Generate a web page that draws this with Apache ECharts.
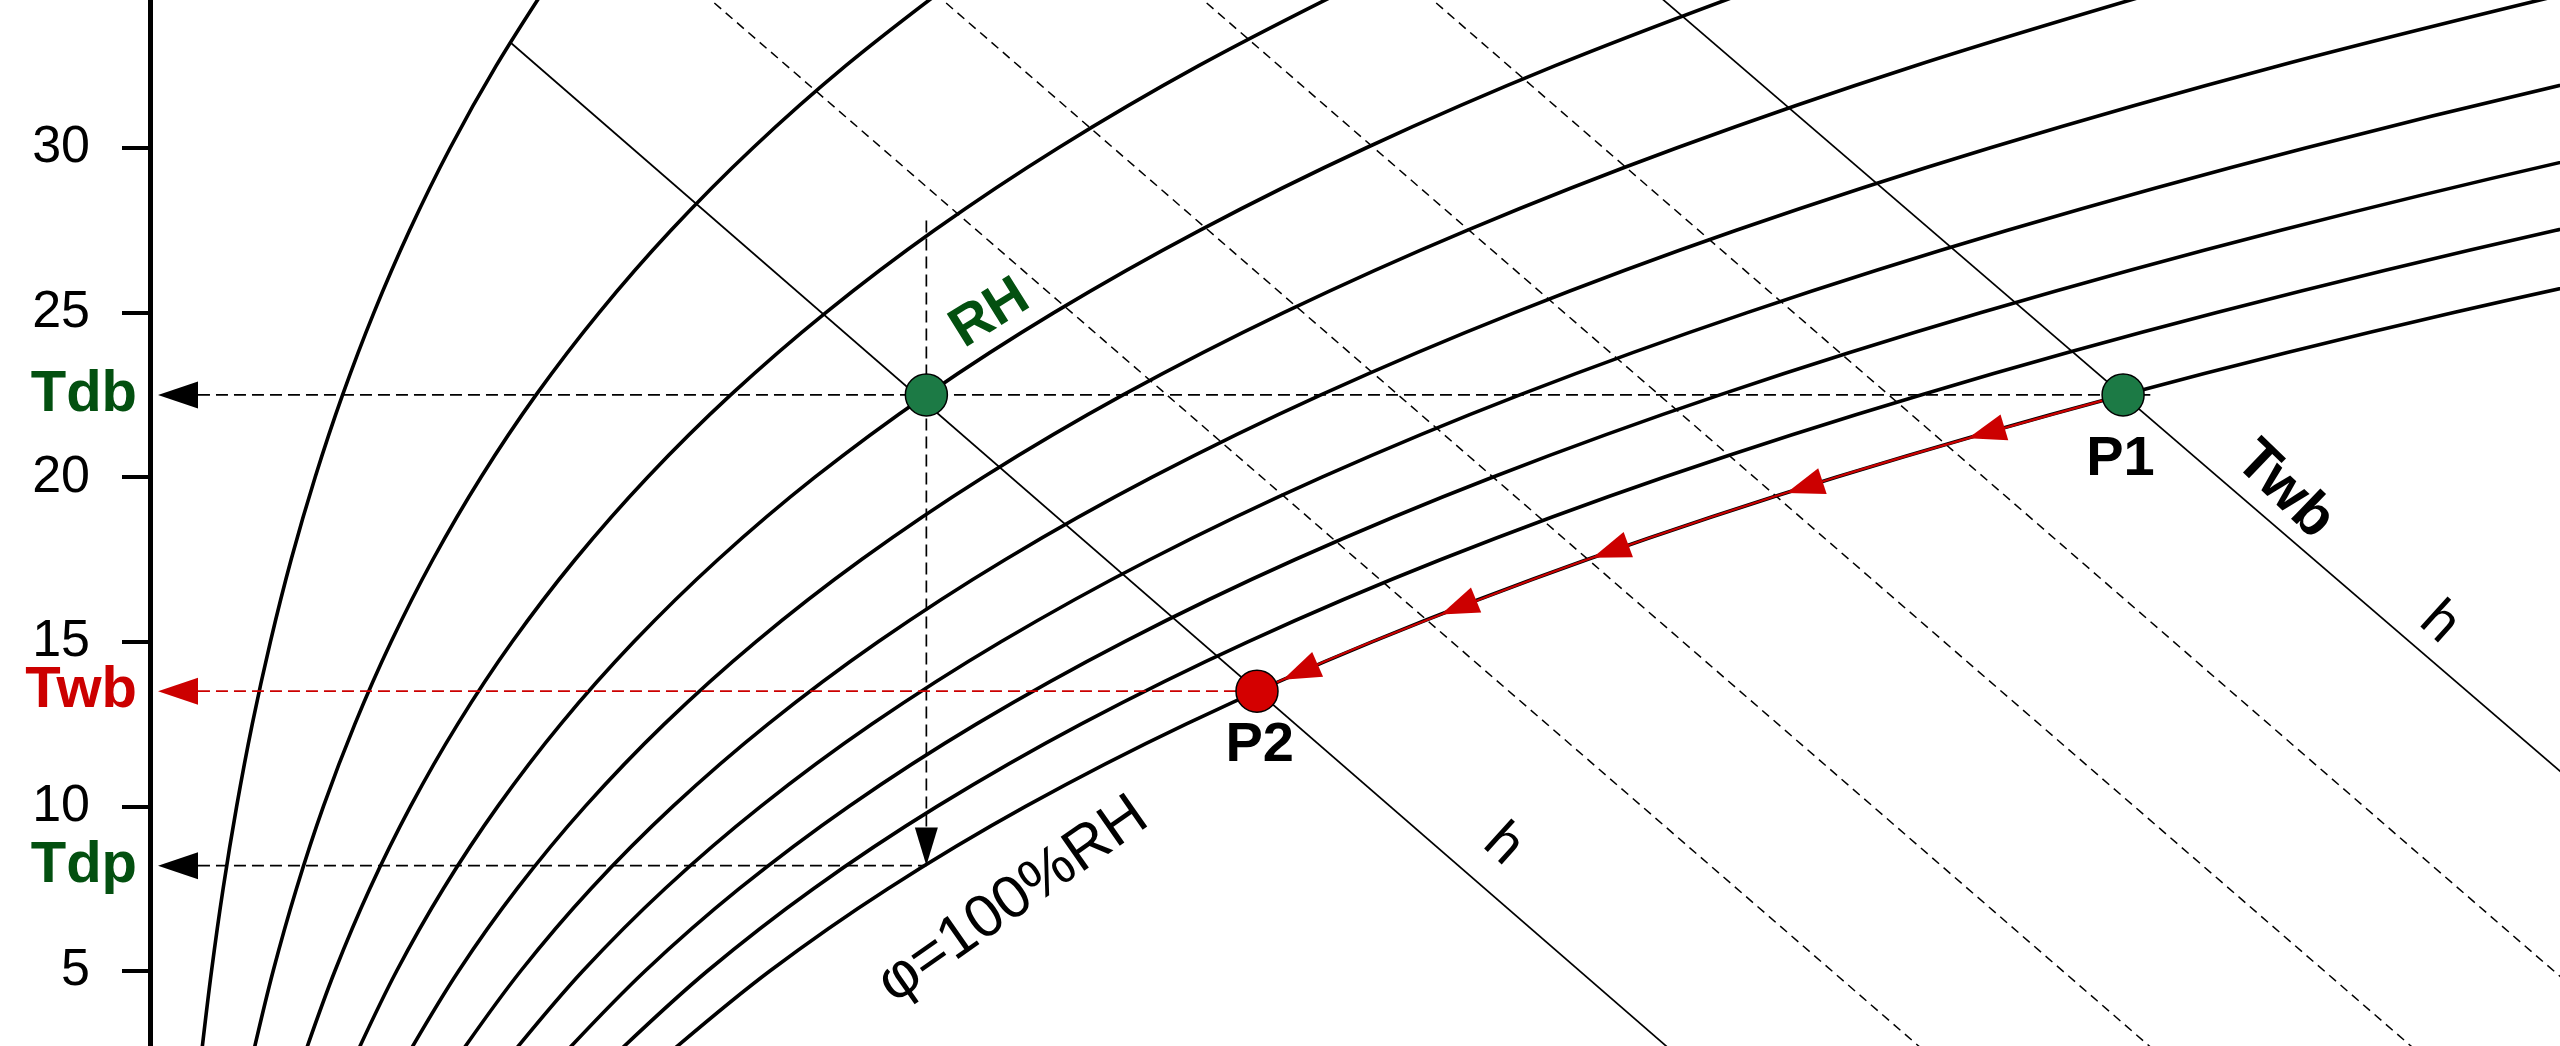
<!DOCTYPE html>
<html>
<head>
<meta charset="utf-8">
<script src="https://cdn.jsdelivr.net/npm/echarts@6/dist/echarts.min.js"></script>
<style>html,body{margin:0;padding:0;background:#fff}#c{width:2560px;height:1046px}</style>
</head>
<body>
<div id="c"></div>
<script>
// ---- data (x: humidity ratio g/kg, y: temperature °C) ----
const TEMP = [2.5, 5, 7.5, 10, 12.5, 15, 17.5, 20, 22.5, 25, 27.5, 30, 32.5, 35];
const RH10  = [0.449, 0.536, 0.637, 0.755, 0.891, 1.049, 1.230, 1.439, 1.678, 1.951, 2.262, 2.615, 3.017, 3.471];
const RH20  = [0.899, 1.073, 1.276, 1.511, 1.785, 2.101, 2.465, 2.884, 3.364, 3.914, 4.540, 5.253, 6.063, 6.981];
const RH30  = [1.350, 1.611, 1.915, 2.270, 2.681, 3.156, 3.705, 4.336, 5.060, 5.889, 6.835, 7.913, 9.139, 10.530];
const RH40  = [1.801, 2.149, 2.556, 3.030, 3.579, 4.216, 4.950, 5.794, 6.765, 7.877, 9.147, 10.595, 12.245, 14.120];
const RH50  = [2.253, 2.689, 3.199, 3.792, 4.481, 5.279, 6.200, 7.260, 8.479, 9.878, 11.476, 13.301, 15.382, 17.750];
const RH60  = [2.705, 3.230, 3.842, 4.556, 5.385, 6.345, 7.454, 8.732, 10.203, 11.891, 13.822, 16.030, 18.551, 21.423];
const RH70  = [3.158, 3.771, 4.487, 5.322, 6.291, 7.415, 8.714, 10.212, 11.936, 13.917, 16.186, 18.782, 21.750, 25.137];
const RH80  = [3.612, 4.314, 5.134, 6.089, 7.200, 8.489, 9.979, 11.698, 13.679, 15.957, 18.567, 21.558, 24.983, 28.895];
const RH90  = [4.067, 4.857, 5.781, 6.859, 8.112, 9.566, 11.249, 13.191, 15.431, 18.009, 20.966, 24.358];
const RH100 = [4.522, 5.401, 6.430, 7.630, 9.027, 10.648, 12.524, 14.691, 17.193, 20.074, 23.383];
const RH_CURVES = [RH10, RH20, RH30, RH40, RH50, RH60, RH70, RH80, RH90, RH100];

// enthalpy lines (end points)
const H_SOLID = [
  [[3.146, 33.19], [14.11, 0]],
  [[13.02, 35], [23.0, 5.07]]
];
const H_DASHED = [
  [[4.72, 35], [15.65, 2]],
  [[6.74, 35], [17.66, 2]],
  [[9.01, 35], [19.94, 2]],
  [[11.01, 35], [21.94, 2]]
];

const TDB = 22.5, TWB = 13.5, TDP = 8.2;
const STATE_PT = [6.765, 22.5];
const P1 = [17.193, 22.5];
const P2 = [9.646, 13.5];
const PATH = [[17.193, 22.5], [14.691, 20], [12.524, 17.5], [10.648, 15], [9.646, 13.5]];
const ARROW_X = [16.00, 14.416, 12.726, 11.402, 10.023];
const ARROW_T = [21.35, 19.7, 17.75, 16.05, 14.08];
const GUIDE_X0 = 0.418;     // start of horizontal guides
const TDB_END_X = 17.43;
const VERT_TOP_T = 27.8, VERT_END_T = 9.0, DOWN_ARROW_T = 8.78;
const AXIS_ARROW_X = 0.244;

const FONT = '"Liberation Sans", Arial, Helvetica, sans-serif';
const GREEN_TXT = '#035010', RED = '#cc0000';

const series = [];
RH_CURVES.forEach((arr, k) => {
  series.push({
    type: 'line', name: 'RH' + (k + 1) * 10, silent: true, z: 3,
    data: arr.map((x, i) => [x, TEMP[i]]),
    smooth: 0.35, showSymbol: false, symbol: 'none',
    lineStyle: { color: '#000', width: 3.6 }
  });
});
H_SOLID.forEach(l => series.push({
  type: 'line', silent: true, z: 2, data: l, symbol: 'none',
  lineStyle: { color: '#000', width: 1.7 }
}));
H_DASHED.forEach(l => series.push({
  type: 'line', silent: true, z: 2, data: l, symbol: 'none',
  lineStyle: { color: '#000', width: 1.5, type: [9, 6] }
}));
// guides
const guide = (d, c) => ({ type: 'line', silent: true, z: 4, data: d, symbol: 'none',
  lineStyle: { color: c, width: 1.7, type: [12, 6] } });
series.push(guide([[GUIDE_X0, TDB], [TDB_END_X, TDB]], '#000'));
series.push(guide([[GUIDE_X0, TDP], [STATE_PT[0], TDP]], '#000'));
series.push(guide([[STATE_PT[0], VERT_TOP_T], [STATE_PT[0], VERT_END_T]], '#000'));
series.push(guide([[GUIDE_X0, TWB], [P2[0], TWB]], RED));
// red path along saturation curve
series.push({ type: 'line', silent: true, z: 5, data: PATH, smooth: 0.35, symbol: 'none',
  lineStyle: { color: RED, width: 2.2 } });
// axis arrows
series.push({ type: 'scatter', silent: true, z: 6, clip: false, symbol: 'triangle',
  itemStyle: { opacity: 1 },
  data: [
    { value: [AXIS_ARROW_X, TDB], symbolSize: [27, 40], symbolRotate: 90, itemStyle: { color: '#000', opacity: 1 } },
    { value: [AXIS_ARROW_X, TWB], symbolSize: [27, 40], symbolRotate: 90, itemStyle: { color: RED, opacity: 1 } },
    { value: [AXIS_ARROW_X, TDP], symbolSize: [27, 40], symbolRotate: 90, itemStyle: { color: '#000', opacity: 1 } },
    { value: [STATE_PT[0], DOWN_ARROW_T], symbolSize: [23, 38], symbolRotate: 180, itemStyle: { color: '#000', opacity: 1 } }
  ] });
// red path arrows (rotation set after layout)
series.push({ id: 'redArrows', type: 'scatter', silent: true, z: 6, symbol: 'triangle',
  symbolSize: [27, 38], itemStyle: { color: RED, opacity: 1 },
  data: ARROW_X.map((x, i) => [x, ARROW_T[i]]) });
// state points
series.push({ type: 'scatter', silent: true, z: 7, symbolSize: 42, itemStyle: { opacity: 1 },
  data: [
    { value: STATE_PT, itemStyle: { color: '#1c7a45', borderColor: '#000', borderWidth: 1.5, opacity: 1 } },
    { value: P1, itemStyle: { color: '#1c7a45', borderColor: '#000', borderWidth: 1.5, opacity: 1 } },
    { value: P2, itemStyle: { color: '#d40000', borderColor: '#000', borderWidth: 1.5, opacity: 1 } }
  ] });

// text annotations
const ANN = [
  { text: 'Tdb', x: -0.113, t: TDB, dy: -12, align: 'right', size: 58, bold: true, color: GREEN_TXT },
  { text: 'Twb', x: -0.113, t: TWB, dy: 0, align: 'right', size: 58, bold: true, color: RED },
  { text: 'Tdp', x: -0.113, t: TDP, dy: 7, align: 'right', size: 58, bold: true, color: GREEN_TXT },
  { text: 'RH', x: 7.32, t: 24.96, rot: 32, size: 56, bold: true, color: GREEN_TXT },
  { text: 'P1', x: 17.17, t: 20.55, size: 56, bold: true, color: '#000' },
  { text: 'P2', x: 9.67, t: 11.84, size: 56, bold: true, color: '#000' },
  { text: 'Twb', x: 18.60, t: 19.6, rot: -44, size: 58, bold: true, color: '#000' },
  { text: 'h', x: 19.95, t: 15.57, rot: -42, size: 56, bold: false, color: '#000' },
  { text: 'h', x: 11.79, t: 8.83, rot: -42, size: 56, bold: false, color: '#000' },
  { text: 'φ=100%RH', x: 7.52, t: 7.15, rot: 35, size: 60, bold: false, color: '#000' }
];
series.push({ type: 'scatter', silent: true, z: 8, clip: false, symbolSize: 1,
  itemStyle: { color: 'rgba(0,0,0,0)', opacity: 1 },
  data: ANN.map(a => ({ value: [a.x, a.t], label: {
    show: true, position: 'inside', formatter: a.text, fontSize: a.size,
    fontWeight: a.bold ? 'bold' : 'normal', fontFamily: FONT, color: a.color, opacity: 1,
    rotate: a.rot || 0, align: a.align || 'center', verticalAlign: 'middle',
    offset: [0, a.dy || 0] } })),
  labelLayout: { hideOverlap: false } });

const option = {
  animation: false,
  backgroundColor: '#fff',
  grid: { left: 150, right: 0, top: -16.6, bottom: -89.6, containLabel: false, outerBoundsMode: 'none' },
  xAxis: { type: 'value', min: 0, max: 21, show: false },
  yAxis: { type: 'value', min: 0, max: 35, interval: 5,
    axisLine: { show: true, lineStyle: { color: '#000', width: 5 } },
    axisTick: { show: true, length: 28, lineStyle: { color: '#000', width: 4 } },
    axisLabel: { fontSize: 52, color: '#000', margin: 60, fontFamily: FONT },
    splitLine: { show: false } },
  series: series
};

const chart = echarts.init(document.getElementById('c'));
chart.setOption(option);
const pts = ARROW_X.map((x, i) => [x, ARROW_T[i]]);
const nxt = pts.slice(1).concat([P2]);
const rots = pts.map((p, i) => {
  const a = chart.convertToPixel({ gridIndex: 0 }, p);
  const b = chart.convertToPixel({ gridIndex: 0 }, nxt[i]);
  return Math.atan2(-(b[1] - a[1]), b[0] - a[0]) * 180 / Math.PI - 90;
});
chart.setOption({ series: [{ id: 'redArrows', data: pts.map((p, i) => ({ value: p, symbolRotate: rots[i] })) }] });
</script>
</body>
</html>
